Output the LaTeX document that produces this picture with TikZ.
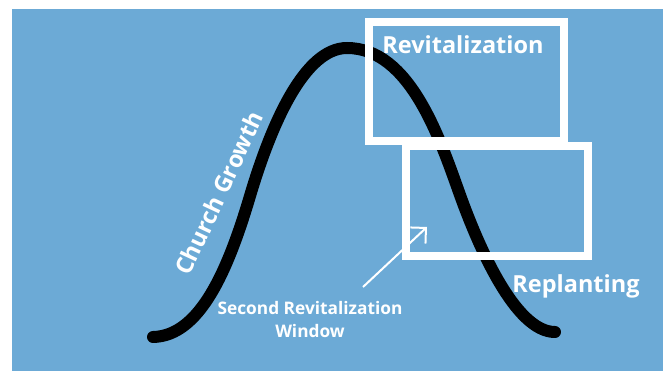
\documentclass[tikz,border=0pt]{standalone}
\usepackage{fontspec}
\setmainfont{Open Sans}
\usetikzlibrary{arrows.meta}
\definecolor{skyblue}{RGB}{108,170,214}

\begin{document}
\begin{tikzpicture}[x=1pt,y=-1pt,
  frame/.style={draw=white,line width=8,minimum width=#1,inner sep=0},
  biglabel/.style={text=white,inner sep=0,font=\bfseries\fontsize{23.5}{28}\selectfont},
  smalllabel/.style={text=white,inner sep=0,align=center,font=\bfseries\fontsize{17.3}{23}\selectfont}]
  \useasboundingbox (0,0) rectangle (667,371);
  \fill[skyblue] (12,9) rectangle (663,371);
  % the growth curve
  \draw[line width=12,line cap=round] (153,337)
    .. controls (200,336) and (228,270) .. (250,196)
    .. controls (272,122) and (305,48) .. (347,48)
    .. controls (410,48) and (440,139) .. (460,195)
    .. controls (478,245) and (515,332) .. (555,332);
  % boxes
  \node[frame=195,minimum height=119] (revbox) at (466.5,81.5) {};
  \node[frame=182,minimum height=110] (repbox) at (497,201) {};
  \node[biglabel,anchor=base] (revlabel) at (463,54) {Revitalization};
  \node[biglabel,anchor=base] (replabel) at (576,293) {Replanting};
  \node[biglabel,rotate=65] (growth) at (219,193) {Church Growth};
  \node[smalllabel,anchor=base] (window) at (310,338) {Second Revitalization\\Window};
  % arrow into the second box
  \coordinate (tail) at (363,287);
  \coordinate (tip) at (427,227);
  \draw[white,line width=2,-{Straight Barb[length=11,width=22]}] (tail) -- (tip);
\end{tikzpicture}
\end{document}
